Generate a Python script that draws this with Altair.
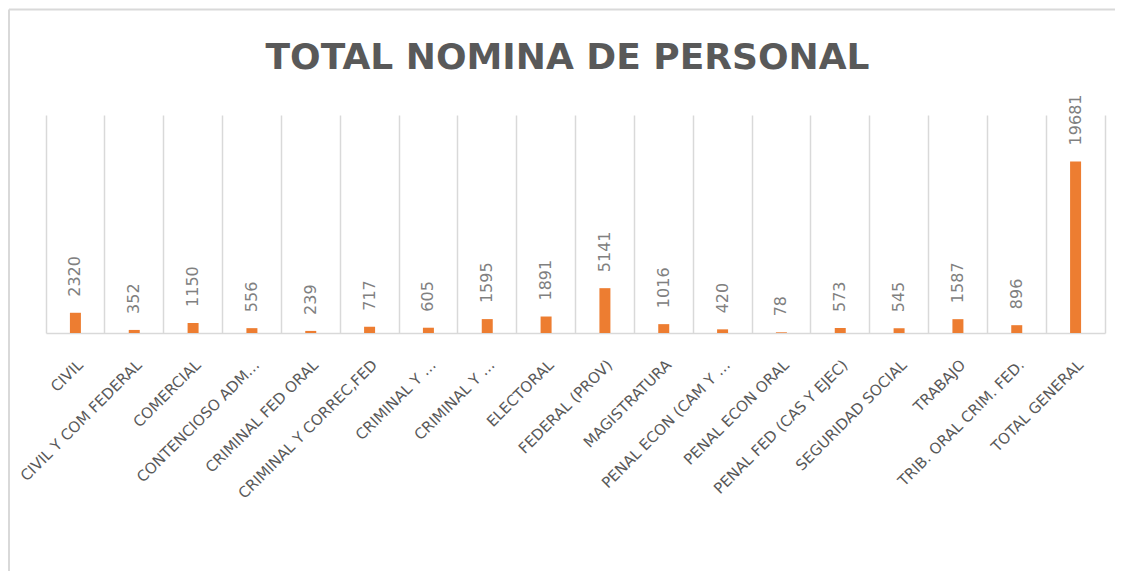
import json
import altair as alt
import pandas as pd

labels = [
    "CIVIL",
    "CIVIL Y COM FEDERAL",
    "COMERCIAL",
    "CONTENCIOSO ADM…",
    "CRIMINAL FED ORAL",
    "CRIMINAL Y CORREC,FED",
    "CRIMINAL Y …",
    "CRIMINAL Y …",
    "ELECTORAL",
    "FEDERAL (PROV)",
    "MAGISTRATURA",
    "PENAL ECON (CAM Y …",
    "PENAL ECON ORAL",
    "PENAL FED (CAS Y EJEC)",
    "SEGURIDAD SOCIAL",
    "TRABAJO",
    "TRIB. ORAL CRIM. FED.",
    "TOTAL GENERAL",
]
values = [2320, 352, 1150, 556, 239, 717, 605, 1595, 1891, 5141,
          1016, 420, 78, 573, 545, 1587, 896, 19681]

df = pd.DataFrame({"idx": list(range(len(labels))), "label": labels, "value": values})

W, H = 1059, 218
L, T, R, B = 38, 107, 10, 238

label_expr = json.dumps(labels, ensure_ascii=False) + "[datum.value]"

x_enc = alt.X(
    "idx:O",
    scale=alt.Scale(paddingInner=0, paddingOuter=0),
    axis=alt.Axis(
        title=None,
        labelExpr=label_expr,
        labelAngle=-45,
        labelFont="DejaVu Sans",
        labelFontSize=15,
        labelColor="#595959",
        labelPadding=24,
        labelLimit=400,
        labelOverlap=False,
        ticks=False,
        grid=True,
        gridColor="#d9d9d9",
        gridWidth=1.5,
        bandPosition=1,
        tickExtra=True,
        domainColor="#d9d9d9",
        domainWidth=1.5,
    ),
)
y_enc = alt.Y("value:Q", scale=alt.Scale(domain=[0, 25000]), axis=None)

base = alt.Chart(df)
bars = base.mark_bar(size=11, color="#ED7D31").encode(x=x_enc, y=y_enc)
texts = base.mark_text(
    angle=270, align="left", baseline="middle", dx=16,
    font="DejaVu Sans", fontSize=16, color="#808080",
).encode(x=x_enc, y=y_enc, text="value:Q")

frame_df = pd.DataFrame({"a": [0]})
left_border = alt.Chart(frame_df).mark_rule(color="#d9d9d9", strokeWidth=2).encode(
    x=alt.value(-L + 1), y=alt.value(-T + 1.5), y2=alt.value(H + B)
)
top_border = alt.Chart(frame_df).mark_rule(color="#d9d9d9", strokeWidth=2).encode(
    x=alt.value(-L + 1), x2=alt.value(W + R), y=alt.value(-T + 1.5)
)

chart = alt.layer(left_border, top_border, bars, texts).properties(
    width=W,
    height=H,
    padding={"left": L, "top": T, "right": R, "bottom": B},
    autosize=alt.AutoSizeParams(type="none"),
    title=alt.TitleParams(
        "TOTAL NOMINA DE PERSONAL",
        font="DejaVu Sans",
        fontSize=36,
        fontWeight="bold",
        color="#595959",
        anchor="middle",
        offset=-68,
        dx=-8,
    ),
).configure_view(stroke="transparent")

chart.save("out.html", embed_options={"renderer": "svg", "actions": False})
